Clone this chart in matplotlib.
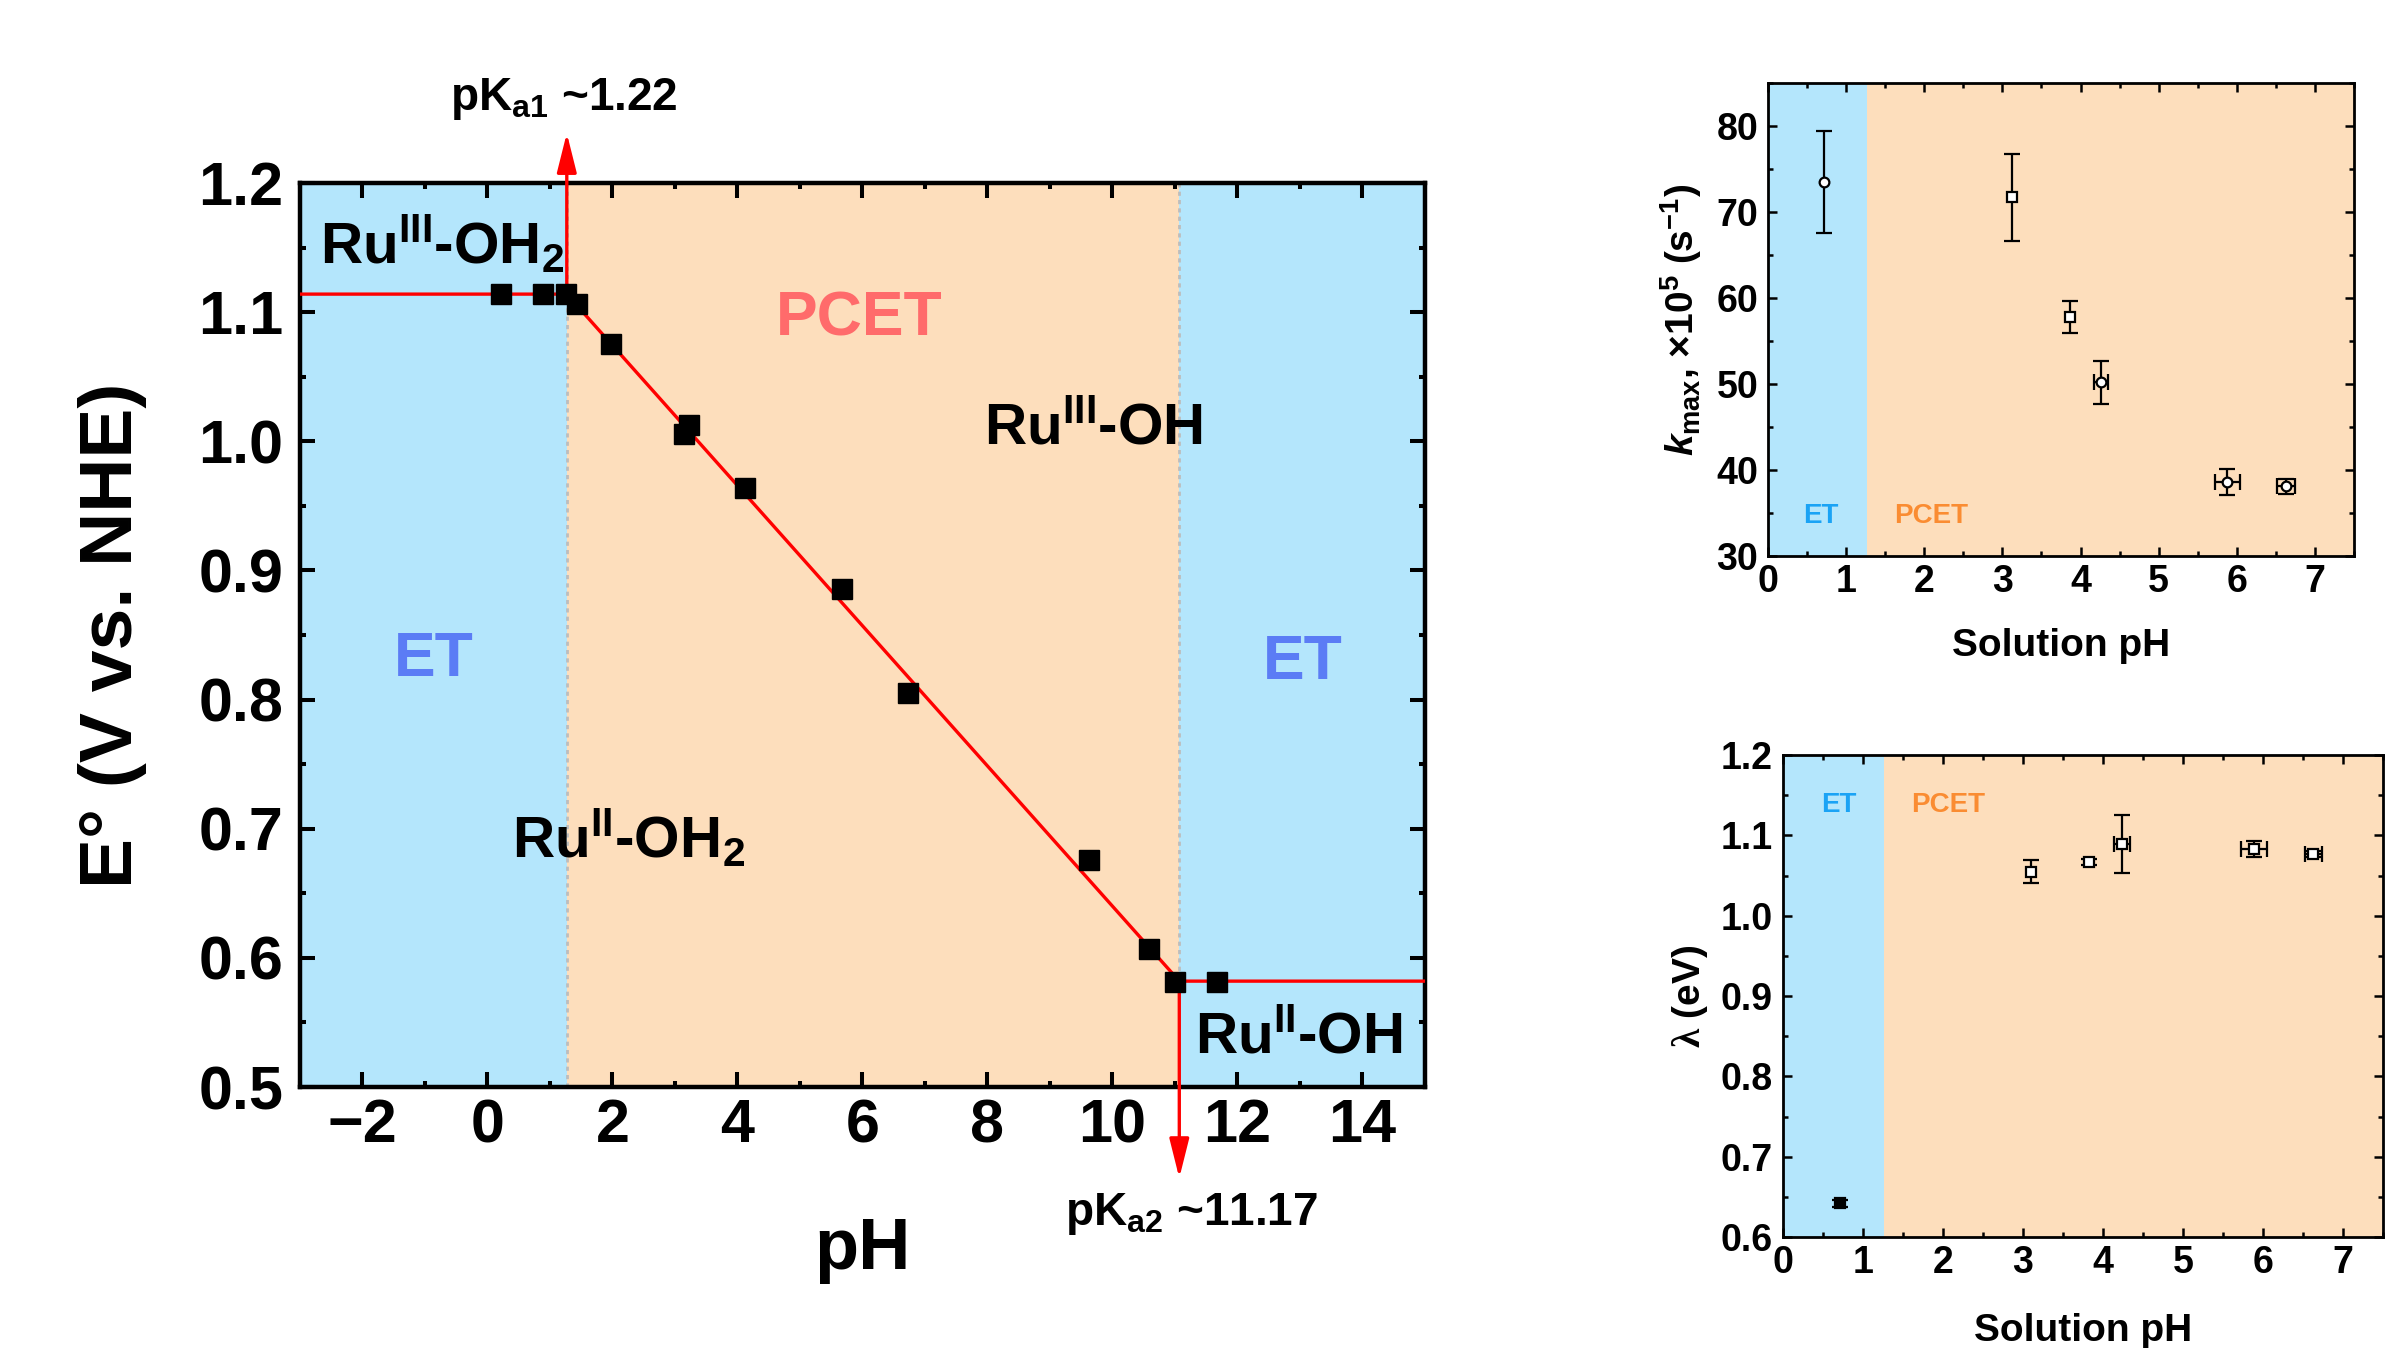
import numpy as np
import matplotlib.pyplot as plt
from matplotlib.ticker import MultipleLocator

plt.rcParams['font.family'] = ['Liberation Sans', 'DejaVu Sans']
plt.rcParams['font.weight'] = 'bold'
plt.rcParams['axes.labelweight'] = 'bold'
plt.rcParams['mathtext.fontset'] = 'custom'
plt.rcParams['mathtext.rm'] = 'Liberation Sans:bold'
plt.rcParams['mathtext.it'] = 'Liberation Sans:italic:bold'
plt.rcParams['mathtext.bf'] = 'Liberation Sans:bold'
plt.rcParams['mathtext.sf'] = 'Liberation Serif'

# Pourbaix diagram data
ph_pts = [0.21, 0.89, 1.25, 1.43, 1.97, 3.15, 3.22, 4.12, 5.67, 6.73, 9.63, 10.59, 11.00, 11.67]
E_pts = [1.114, 1.114, 1.114, 1.106, 1.075, 1.006, 1.013, 0.964, 0.886, 0.805, 0.676, 0.607, 0.581, 0.581]
pka1 = 1.27
pka2 = 11.07
E_top = 1.114
E_bot = 0.582
fit_ph = [-3, pka1, pka2, 15]
fit_E = [E_top, E_top, E_bot, E_bot]

# k_max vs pH
k_ph = [0.71, 3.12, 3.86, 4.26, 5.88, 6.63]
k_ph_err = [0, 0, 0, 0.09, 0.155, 0.115]
k_val = [73.5, 71.7, 57.8, 50.2, 38.6, 38.1]
k_err = [5.9, 5.1, 1.9, 2.5, 1.5, 0.9]
k_mark = ['o', 's', 's', 'o', 'o', 'o']

# lambda vs pH
lam_ph = [0.72, 3.10, 3.83, 4.24, 5.89, 6.63]
lam_ph_err = [0, 0, 0, 0.095, 0.16, 0.11]
lam_val = [0.642, 1.055, 1.067, 1.089, 1.083, 1.077]
lam_err = [0.004, 0.0145, 0.004, 0.036, 0.01, 0.004]
lam_fill = ['black', 'white', 'white', 'white', 'white', 'white']

blue_bg = '#B4E6FC'
peach_bg = '#FDDEBC'


def style_axes(a, lw, maj, minr, tw, size, pad):
    for s in a.spines.values():
        s.set_linewidth(lw)
    a.tick_params(which='both', direction='in', top=True, right=True,
                  width=tw, labelsize=size, pad=pad)
    a.tick_params(which='major', length=maj)
    a.tick_params(which='minor', length=minr)


fig = plt.figure(figsize=(23.86, 13.48), dpi=100)

#_____________ main Pourbaix plot
ax = fig.add_axes([0.1257, 0.1936, 0.4715, 0.6706])
ax.axvspan(-3, pka1, color=blue_bg, lw=0, zorder=0)
ax.axvspan(pka1, pka2, color=peach_bg, lw=0, zorder=0)
ax.axvspan(pka2, 15, color=blue_bg, lw=0, zorder=0)
ax.axvline(pka1, color='#BDBDBD', ls=(0, (1.5, 1.5)), lw=2, zorder=1)
ax.axvline(pka2, color='#BDBDBD', ls=(0, (1.5, 1.5)), lw=2, zorder=1)
ax.plot(fit_ph, fit_E, color='red', lw=2.4, zorder=3)
ax.plot(ph_pts, E_pts, 's', color='black', ms=14, zorder=4)

arrow = dict(arrowstyle='-|>,head_length=1.2,head_width=0.3', mutation_scale=20,
             color='red', lw=2.4, shrinkA=0, shrinkB=0)
ax.annotate('', xy=(pka1, 1.2387), xytext=(pka1, E_top), arrowprops=arrow,
            annotation_clip=False, zorder=3)
ax.annotate('', xy=(pka2, 0.4295), xytext=(pka2, E_bot), arrowprops=arrow,
            annotation_clip=False, zorder=3)
ax.text(1.23, 1.2566, r'pK$_{\mathrm{a1}}$ ~1.22', ha='center', va='baseline',
        fontsize=33, clip_on=False)
ax.text(11.27, 0.393, r'pK$_{\mathrm{a2}}$ ~11.17', ha='center', va='baseline',
        fontsize=33, clip_on=False)

ax.text(-2.68, 1.138, r'Ru$^{\mathrm{III}}$-OH$_{\mathrm{2}}$', fontsize=42, va='baseline')
ax.text(7.95, 0.998, r'Ru$^{\mathrm{III}}$-OH', fontsize=42, va='baseline')
ax.text(0.40, 0.678, r'Ru$^{\mathrm{II}}$-OH$_{\mathrm{2}}$', fontsize=42, va='baseline')
ax.text(11.32, 0.527, r'Ru$^{\mathrm{II}}$-OH', fontsize=42, va='baseline')
ax.text(5.95, 1.082, 'PCET', color='#FF6B6B', fontsize=45, ha='center', va='baseline')
ax.text(-0.86, 0.818, 'ET', color='#5B7CF5', fontsize=45, ha='center', va='baseline')
ax.text(13.04, 0.816, 'ET', color='#5B7CF5', fontsize=45, ha='center', va='baseline')

ax.set_xlim(-3, 15)
ax.set_ylim(0.5, 1.2)
ax.xaxis.set_major_locator(MultipleLocator(2))
ax.xaxis.set_minor_locator(MultipleLocator(1))
ax.yaxis.set_major_locator(MultipleLocator(0.1))
ax.yaxis.set_minor_locator(MultipleLocator(0.05))
ax.yaxis.set_major_formatter(plt.FormatStrFormatter('%.1f'))
style_axes(ax, 3.2, 10.8, 4.3, 2.9, 44, 12)
ax.tick_params(axis='x', pad=8)
ax.set_xlabel('pH', fontsize=52, va='center')
ax.xaxis.set_label_coords(0.5, -0.18)
ax.set_ylabel('E° (V vs. NHE)', fontsize=54, va='center')
ax.yaxis.set_label_coords(-0.167, 0.5)

#_____________ k_max panel
ax1 = fig.add_axes([0.741, 0.5875, 0.2456, 0.3509])
ax1.axvspan(0, pka1, color=blue_bg, lw=0, zorder=0)
ax1.axvspan(pka1, 7.5, color=peach_bg, lw=0, zorder=0)
for x, xe, y, ye, m in zip(k_ph, k_ph_err, k_val, k_err, k_mark):
    ax1.errorbar(x, y, yerr=ye, xerr=xe if xe > 0 else None, fmt=m, ms=7,
                 mfc='white', mec='black', mew=1.6, ecolor='black',
                 elinewidth=1.6, capsize=6, capthick=1.6, zorder=3)
ax1.text(0.68, 33.8, 'ET', color='#1AA3F5', fontsize=20, ha='center', va='baseline')
ax1.text(2.09, 33.8, 'PCET', color='#FA8C32', fontsize=20, ha='center', va='baseline')
ax1.set_xlim(0, 7.5)
ax1.set_ylim(30, 85)
ax1.xaxis.set_major_locator(MultipleLocator(1))
ax1.xaxis.set_minor_locator(MultipleLocator(0.5))
ax1.yaxis.set_major_locator(MultipleLocator(10))
ax1.yaxis.set_minor_locator(MultipleLocator(5))
style_axes(ax1, 2.0, 6.7, 3.8, 1.8, 27, 7)
ax1.tick_params(axis='x', pad=6)
ax1.set_xlabel('Solution pH', fontsize=28, va='center')
ax1.xaxis.set_label_coords(0.5, -0.19)
ax1.set_ylabel(r'$k_{\mathrm{max}}$, ×10$^{\mathrm{5}}$ (s$^{\mathrm{-1}}$)', fontsize=28, va='center')
ax1.yaxis.set_label_coords(-0.148, 0.5)

#_____________ lambda panel
ax2 = fig.add_axes([0.7471, 0.0823, 0.2517, 0.3576])
ax2.axvspan(0, pka1, color=blue_bg, lw=0, zorder=0)
ax2.axvspan(pka1, 7.5, color=peach_bg, lw=0, zorder=0)
for x, xe, y, ye, f in zip(lam_ph, lam_ph_err, lam_val, lam_err, lam_fill):
    ax2.errorbar(x, y, yerr=ye, xerr=xe if xe > 0 else None, fmt='s', ms=6.5,
                 mfc=f, mec='black', mew=1.6, ecolor='black',
                 elinewidth=1.6, capsize=6, capthick=1.6, zorder=3)
ax2.text(0.70, 1.129, 'ET', color='#1AA3F5', fontsize=20, ha='center', va='baseline')
ax2.text(2.07, 1.129, 'PCET', color='#FA8C32', fontsize=20, ha='center', va='baseline')
ax2.set_xlim(0, 7.5)
ax2.set_ylim(0.6, 1.2)
ax2.xaxis.set_major_locator(MultipleLocator(1))
ax2.xaxis.set_minor_locator(MultipleLocator(0.5))
ax2.yaxis.set_major_locator(MultipleLocator(0.1))
ax2.yaxis.set_minor_locator(MultipleLocator(0.05))
ax2.yaxis.set_major_formatter(plt.FormatStrFormatter('%.1f'))
style_axes(ax2, 2.0, 6.7, 3.8, 1.8, 27, 7)
ax2.tick_params(axis='x', pad=6)
ax2.set_xlabel('Solution pH', fontsize=28, va='center')
ax2.xaxis.set_label_coords(0.5, -0.195)
ax2.set_ylabel(r'$\mathsf{\lambda}$ (eV)', fontsize=28, va='center')
ax2.yaxis.set_label_coords(-0.154, 0.5)

fig.savefig('out.png', dpi=100)
